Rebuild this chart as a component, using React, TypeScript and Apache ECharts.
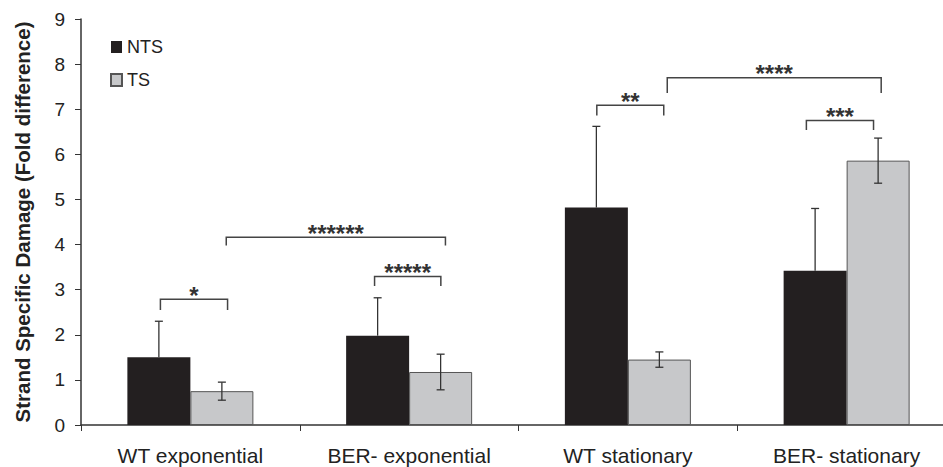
import React, { useEffect, useRef } from "react";
import * as echarts from "echarts";

const categories = ["WT exponential", "BER- exponential", "WT stationary", "BER- stationary"];
const ntsValues = [1.5, 1.98, 4.82, 3.42];
const ntsErrors = [0.8, 0.84, 1.8, 1.38];
const tsValues = [0.75, 1.175, 1.45, 5.86];
const tsErrors = [0.2, 0.395, 0.17, 0.5];
const yTicks = [0, 1, 2, 3, 4, 5, 6, 7, 8, 9];

// brackets: [catA, offsetA, catB, offsetB, topValue, legValue]
const brackets = [
  [0, -0.137, 0, 0.17, 2.79, 2.55],
  [0, 0.164, 1, 0.166, 4.16, 3.98],
  [1, -0.158, 1, 0.145, 3.29, 3.08],
  [2, -0.142, 2, 0.164, 7.09, 6.86],
  [2, 0.18, 3, 0.158, 7.7, 7.36],
  [3, -0.184, 3, 0.123, 6.75, 6.54],
];
const bracketLabels = ["*", "******", "*****", "**", "****", "***"];

const FONT = "'Liberation Sans', Arial, sans-serif";
const BAR_W = 63;

function errorSeries(name: string, values: number[], errors: number[], offset: number, upOnly: boolean) {
  const data = values.map((v, i) => [i, upOnly ? v : v - errors[i], v + errors[i]]);
  return {
    type: "custom",
    name: name + " err",
    z: 5,
    encode: { x: 0, y: [1, 2] },
    data,
    renderItem: (params: any, api: any) => {
      const lo = api.coord([api.value(0), api.value(1)]);
      const hi = api.coord([api.value(0), api.value(2)]);
      const cx = lo[0] + offset;
      const cap = 4;
      const st = { stroke: "#333", lineWidth: 1.3 };
      const children: any[] = [
        { type: "line", shape: { x1: cx, y1: hi[1], x2: cx, y2: lo[1] }, style: st },
        { type: "line", shape: { x1: cx - cap, y1: hi[1], x2: cx + cap, y2: hi[1] }, style: st },
      ];
      if (!upOnly) {
        children.push({ type: "line", shape: { x1: cx - cap, y1: lo[1], x2: cx + cap, y2: lo[1] }, style: st });
      }
      return { type: "group", children };
    },
  };
}

export default function App() {
  const ref = useRef<HTMLDivElement>(null);
  useEffect(() => {
    if (!ref.current) return;
    const chart = echarts.init(ref.current, undefined, { renderer: "svg" });
    chart.setOption({
      animation: false,
      backgroundColor: "#fff",
      textStyle: { fontFamily: FONT },
      grid: { left: 81, top: 19, height: 406, width: 875, containLabel: false, outerBoundsMode: "none" },
      legend: {
        show: true,
        orient: "vertical",
        left: 110,
        top: 38,
        padding: 0,
        itemWidth: 11,
        itemHeight: 12,
        itemGap: 15,
        icon: "rect",
        data: ["NTS", "TS"],
        textStyle: { fontSize: 18, color: "#222", fontFamily: FONT },
      },
      xAxis: {
        type: "category",
        data: categories,
        axisLine: { lineStyle: { color: "#333", width: 1.5 } },
        axisTick: { show: true, length: 6, lineStyle: { color: "#333" } },
        axisLabel: { fontSize: 21, color: "#222", margin: 20, fontFamily: FONT, interval: 0 },
      },
      yAxis: {
        type: "value",
        min: 0,
        max: 9,
        interval: 1,
        name: "Strand Specific Damage (Fold difference)",
        nameLocation: "middle",
        nameGap: 48,
        nameTextStyle: { fontSize: 20.5, fontWeight: "bold", color: "#222", fontFamily: FONT },
        axisLine: { show: true, lineStyle: { color: "#333", width: 1.5 } },
        axisTick: { show: true, length: 6, lineStyle: { color: "#333" } },
        splitLine: { show: false },
        axisLabel: {
          fontSize: 19,
          color: "#222",
          margin: 16,
          fontFamily: FONT,
          formatter: (v: number) => (yTicks.includes(v) ? String(v) : ""),
        },
      },
      series: [
        {
          type: "bar",
          name: "NTS",
          data: ntsValues,
          barWidth: BAR_W,
          barGap: "0%",
          itemStyle: { color: "#231f20", borderColor: "#231f20", borderWidth: 0 },
        },
        {
          type: "bar",
          name: "TS",
          data: tsValues,
          barWidth: BAR_W,
          barGap: "0%",
          itemStyle: { color: "#c7c8ca", borderColor: "#555", borderWidth: 1 },
        },
        errorSeries("NTS", ntsValues, ntsErrors, -BAR_W / 2, true),
        errorSeries("TS", tsValues, tsErrors, BAR_W / 2, false),
        {
          type: "custom",
          name: "brackets",
          z: 6,
          encode: { x: [0, 2], y: [4, 5] },
          data: brackets,
          renderItem: (params: any, api: any) => {
            const bw = api.size([1, 0])[0];
            const a = api.coord([api.value(0), api.value(4)]);
            const b = api.coord([api.value(2), api.value(4)]);
            const leg = api.coord([api.value(0), api.value(5)]);
            const x1 = a[0] + api.value(1) * bw;
            const x2 = b[0] + api.value(3) * bw;
            const y = a[1];
            const yl = leg[1];
            const st = { stroke: "#444", lineWidth: 1.5, fill: "none" };
            return {
              type: "group",
              children: [
                { type: "polyline", shape: { points: [[x1, yl], [x1, y], [x2, y], [x2, yl]] }, style: st },
                {
                  type: "text",
                  style: {
                    text: bracketLabels[params.dataIndex],
                    x: (x1 + x2) / 2,
                    y: y + 8,
                    align: "center",
                    verticalAlign: "bottom",
                    fontSize: 24,
                    fontWeight: "bold",
                    fontFamily: FONT,
                    fill: "#333",
                  },
                },
              ],
            };
          },
        },
      ],
    });
    return () => chart.dispose();
  }, []);
  return (
    <div
      ref={ref}
      style={{ position: "absolute", left: 0, top: 0, width: 943, height: 467, overflow: "hidden" }}
    />
  );
}
